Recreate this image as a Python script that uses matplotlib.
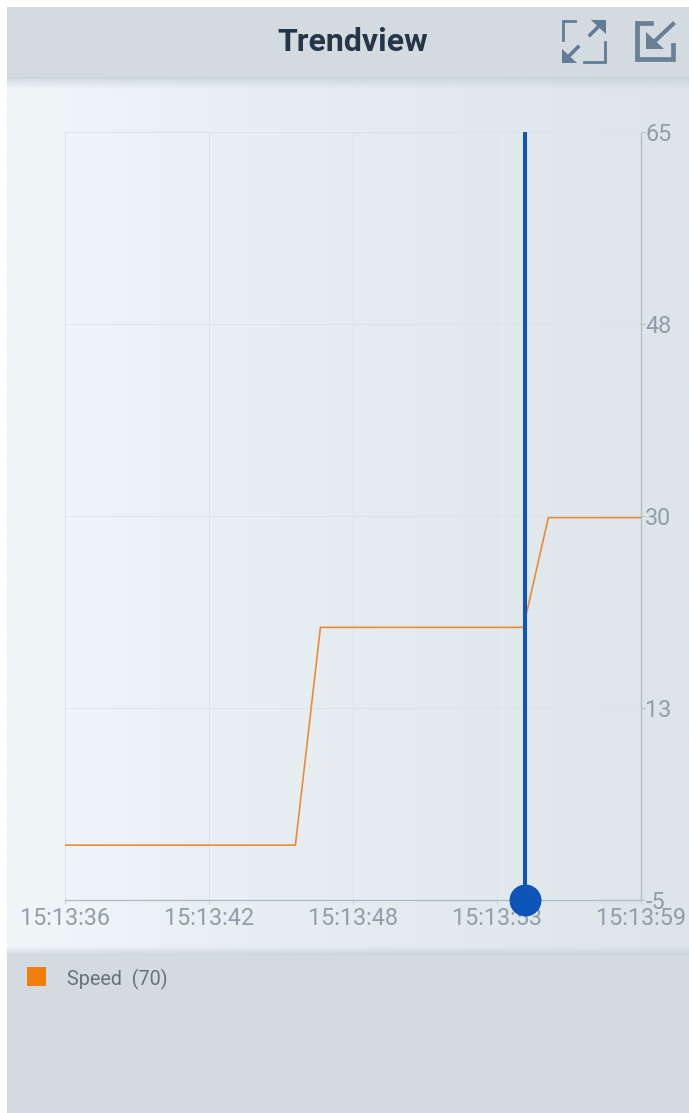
import numpy as np
import matplotlib
matplotlib.use("Agg")
import matplotlib.pyplot as plt
from matplotlib.patches import Polygon, Rectangle

# seconds after 15:13:00
time_s = [36.0, 45.2, 46.2, 54.3, 55.3, 59.0]
speed = [0, 0, 19.85, 19.85, 29.85, 29.85]
cursor_s = 54.36
x_ticks = [36.0, 41.75, 47.5, 53.25, 59.0]
x_labels = ["15:13:36", "15:13:42", "15:13:48", "15:13:53", "15:13:59"]
y_ticks = [-5, 12.5, 30, 47.5, 65]
y_labels = ["-5", "13", "30", "48", "65"]
title = "Trendview"
legend_label = "Speed  (70)"

W, H = 689, 1113
plt.rcParams["font.family"] = ["Roboto", "DejaVu Sans"]

fig = plt.figure(figsize=(W / 100, H / 100), dpi=100, facecolor="white")

# page chrome, in pixel coordinates
bg = fig.add_axes([0, 0, 1, 1], zorder=0)
bg.set_xlim(0, W)
bg.set_ylim(H, 0)
bg.axis("off")

pos = np.linspace(0, 1, 256)
grad = np.stack([np.interp(pos, [0, 0.4, 1], c) for c in ([241, 230, 221], [246, 238, 229], [249, 241, 234])], axis=1) / 255
bg.imshow(grad[np.newaxis, :, :], extent=(7, W, 955, 78), aspect="auto", zorder=1)
bg.add_patch(Rectangle((7, 7), W - 7, 71, color="#d3dbe1", lw=0, zorder=2))
bg.add_patch(Rectangle((7, 955), W - 7, H - 955, color="#d3dbe1", lw=0, zorder=2))

# soft shadows at the panel edges
shade = np.zeros((32, 1, 4))
shade[:, :, :3] = np.array([196, 208, 213]) / 255
shade[:, 0, 3] = np.linspace(0.75, 0, 32)
bg.imshow(shade, extent=(7, W, 89, 77), aspect="auto", zorder=3)
bg.imshow(shade[::-1], extent=(7, W, 955, 946), aspect="auto", zorder=3)
bg.set_xlim(0, W)
bg.set_ylim(H, 0)

ax = fig.add_axes([65 / W, 1 - 900 / H, 576 / W, 768 / H], zorder=1)
ax.patch.set_alpha(0)
ax.set_xlim(x_ticks[0], x_ticks[-1])
ax.set_ylim(y_ticks[0], y_ticks[-1])
ax.grid(True, color="#dae4e8", lw=0.6)
ax.set_axisbelow(True)

ax.plot(time_s, speed, color="#ee8a35", lw=1.2, zorder=3)
ax.axvline(cursor_s, color="#0d55b8", lw=2.9, zorder=4)
ax.plot([cursor_s], [y_ticks[0]], "o", color="#0d55b8", ms=23, mew=0, clip_on=False, zorder=6)

for side in ["left", "top"]:
    ax.spines[side].set_color("#dae4e8")
    ax.spines[side].set_linewidth(0.7)
for side in ["right", "bottom"]:
    ax.spines[side].set_color("#aebbc5")
    ax.spines[side].set_linewidth(0.9)

ax.yaxis.tick_right()
ax.set_xticks(x_ticks, x_labels)
ax.set_yticks(y_ticks, y_labels)
ax.tick_params(axis="x", labelcolor="#8f9eaa", labelsize=16.8, length=3, width=0.7, pad=2, color="#c4d0d7")
ax.tick_params(axis="y", labelcolor="#8f9eaa", labelsize=16.8, length=3, width=0.7, pad=0, color="#aebbc5")

# chrome drawn on top
top = fig.add_axes([0, 0, 1, 1], zorder=2)
top.set_xlim(0, W)
top.set_ylim(H, 0)
top.axis("off")
top.patch.set_alpha(0)

top.text(353, 42, title, fontsize=23, fontweight="bold", color="#243647", ha="center", va="center")

# expand icon
c1 = "#617c96"
top.plot([575, 563, 563], [21, 21, 40], color=c1, lw=2, solid_joinstyle="miter")
top.plot([584, 605, 605], [62, 62, 42], color=c1, lw=2, solid_joinstyle="miter")
top.plot([590, 600], [35, 25], color=c1, lw=2.6)
top.plot([578, 568], [47, 57], color=c1, lw=2.6)
top.add_patch(Polygon([(591, 20), (606, 20), (606, 34)], color=c1, lw=0))
top.add_patch(Polygon([(562, 49), (562, 63), (577, 63)], color=c1, lw=0))

# export icon
c2 = "#688095"
top.plot([651, 637, 637, 673, 673], [23, 23, 59, 59, 45], color=c2, lw=3.4, solid_joinstyle="miter")
top.plot([673, 655], [24, 41], color=c2, lw=3)
top.add_patch(Polygon([(646, 32), (646, 49), (664, 49)], color=c2, lw=0))

# legend
top.add_patch(Rectangle((27, 967), 19, 19, color="#f07d0c", lw=0))
top.text(67, 979, legend_label, fontsize=14.2, color="#66727e", ha="left", va="center")

fig.savefig("out.png", dpi=100)
